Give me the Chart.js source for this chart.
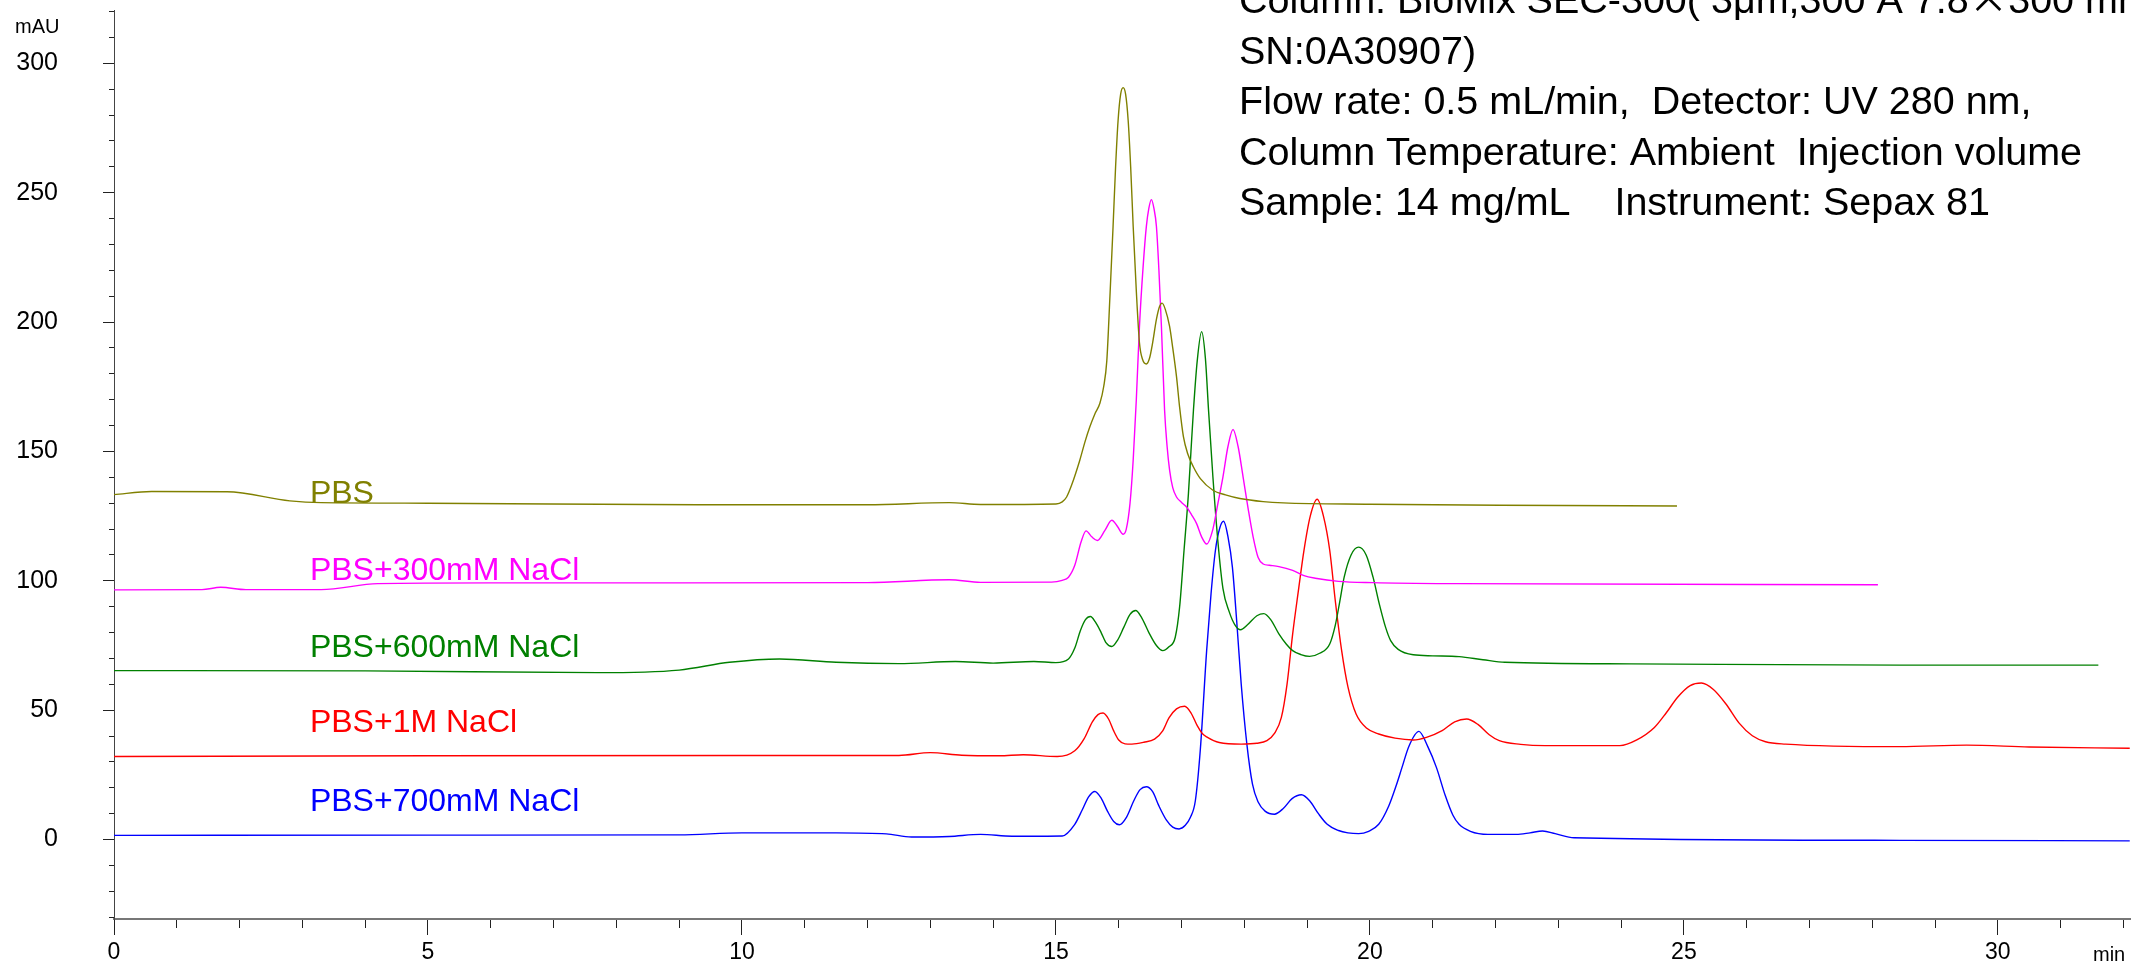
<!DOCTYPE html>
<html>
<head>
<meta charset="utf-8">
<script src="https://cdn.jsdelivr.net/npm/chart.js@4/dist/chart.umd.min.js"></script>
<style>
  html, body { margin: 0; padding: 0; background: #fff; }
  canvas { display: block; }
</style>
</head>
<body>
<canvas id="chrom" width="2131" height="964"></canvas>
<script>
// retention time (min) and absorbance (mAU)
const pbsTime = [0, 0.6, 1.8, 2.8, 3.3, 5, 9.3, 12, 13.3, 13.8, 15.0, 15.1, 15.17, 15.25, 15.38, 15.46, 15.54, 15.62, 15.70, 15.76, 15.81, 15.86, 15.91, 15.95, 15.99, 16.03, 16.07, 16.11, 16.15, 16.19, 16.23, 16.28, 16.33, 16.38, 16.44, 16.49, 16.54, 16.60, 16.65, 16.69, 16.74, 16.81, 16.86, 16.92, 16.97, 17.03, 17.10, 17.19, 17.3, 17.5, 17.7, 17.93, 18.3, 18.62, 20, 22.07, 24.89];
const pbsMau = [133.3, 134.5, 134.4, 130.9, 130.2, 130, 129.4, 129.4, 130.2, 129.5, 129.7, 130.5, 132.4, 137, 146.6, 153.5, 159.5, 164.5, 168.6, 175, 185, 210, 237, 260, 278, 288, 290.6, 288, 278, 260, 237, 212, 192, 185.5, 183.8, 186, 192, 201, 206, 207.3, 205, 198.3, 190, 178.9, 167, 155.7, 149, 144, 139.5, 135, 133.2, 131.8, 130.6, 130.1, 129.6, 129.2, 128.9];

const nacl300Time = [0, 1.4, 1.7, 2.1, 3.3, 4.2, 6, 9, 12, 13.3, 13.8, 14.93, 15.1, 15.2, 15.3, 15.4, 15.48, 15.57, 15.66, 15.78, 15.89, 15.98, 16.07, 16.12, 16.18, 16.23, 16.28, 16.33, 16.39, 16.44, 16.48, 16.52, 16.56, 16.6, 16.64, 16.68, 16.73, 16.77, 16.81, 16.86, 16.92, 17.0, 17.08, 17.16, 17.24, 17.32, 17.4, 17.5, 17.58, 17.66, 17.74, 17.82, 17.9, 17.98, 18.06, 18.14, 18.22, 18.3, 18.4, 18.55, 18.77, 18.95, 19.13, 19.5, 20.05, 21.4, 28.09];
const nacl300Mau = [96.5, 96.6, 97.5, 96.6, 96.6, 98.9, 99.2, 99.2, 99.3, 100.4, 99.4, 99.5, 100.2, 101.4, 106, 115, 119.3, 117, 115.6, 119.5, 123.4, 121, 118, 120, 130, 146.6, 170, 198.3, 222, 237, 244, 247.3, 244, 237, 220, 198.3, 166, 152, 142.8, 136, 132.4, 130.3, 128.5, 125.5, 122.1, 117, 114.2, 120, 130, 140.2, 152, 158.5, 152, 140.2, 128, 117, 109, 106.5, 106, 105.5, 104, 102, 101, 99.8, 99.3, 98.9, 98.5];

const nacl600Time = [0, 4, 7.7, 9.0, 9.8, 10.6, 11.5, 12.5, 13.4, 14.0, 14.65, 15.0, 15.2, 15.3, 15.39, 15.47, 15.55, 15.63, 15.72, 15.8, 15.89, 15.98, 16.08, 16.18, 16.27, 16.36, 16.48, 16.6, 16.7, 16.8, 16.9, 16.97, 17.04, 17.11, 17.15, 17.19, 17.25, 17.32, 17.38, 17.43, 17.5, 17.58, 17.66, 17.76, 17.85, 17.94, 18.05, 18.2, 18.31, 18.42, 18.55, 18.67, 18.77, 18.9, 19.04, 19.2, 19.36, 19.45, 19.52, 19.59, 19.7, 19.82, 19.94, 20.05, 20.15, 20.25, 20.33, 20.45, 20.69, 21.0, 21.42, 21.8, 22.15, 24.16, 28.44, 31.6];
const nacl600Mau = [65.3, 65.2, 64.5, 65.5, 68.5, 69.8, 68.5, 68, 68.8, 68.2, 68.8, 68.4, 69.8, 74, 80.8, 85, 86.2, 84, 80, 76, 74.6, 77, 82, 87, 88.5, 86, 80, 75, 73, 74.5, 78.2, 90, 111.8, 133.7, 150, 166, 185, 196.3, 186, 166, 140, 115, 97, 88, 83, 81.1, 83, 86.5, 87.3, 85, 79.5, 75.5, 73, 71.5, 70.8, 72, 75.6, 83, 92, 101.4, 110, 113, 110, 101.4, 91, 82, 76.9, 73.5, 71.4, 71, 70.7, 69.5, 68.5, 67.9, 67.4, 67.4];

const nacl1mTime = [0, 5, 10, 12.5, 13.0, 13.5, 14.1, 14.48, 15.02, 15.3, 15.45, 15.58, 15.67, 15.75, 15.84, 15.92, 16.0, 16.1, 16.21, 16.4, 16.57, 16.7, 16.8, 16.92, 17.05, 17.15, 17.25, 17.33, 17.4, 17.6, 17.95, 18.2, 18.36, 18.48, 18.59, 18.68, 18.77, 18.86, 18.95, 19.05, 19.16, 19.26, 19.36, 19.45, 19.55, 19.65, 19.78, 19.95, 20.14, 20.4, 20.69, 20.9, 21.15, 21.35, 21.54, 21.72, 21.9, 22.06, 22.4, 22.79, 23.98, 24.25, 24.53, 24.72, 24.9, 25.1, 25.28, 25.47, 25.67, 25.88, 26.09, 26.3, 26.62, 28.44, 29.5, 30.5, 32.1];
const nacl1mMau = [32.1, 32.4, 32.5, 32.5, 33.6, 32.6, 32.4, 32.8, 32.1, 34.3, 39, 45.5, 48.3, 48.9, 46.5, 42, 38.5, 37, 36.9, 37.6, 38.8, 42, 47, 50.5, 51.5, 49, 44, 41, 39.7, 37.5, 36.9, 37.2, 38.2, 41, 47.2, 60, 79.5, 96, 111.8, 125, 131.5, 125, 111.8, 92, 73, 59, 48.5, 43, 40.8, 39.2, 38.5, 39.5, 42.1, 45.5, 46.6, 44.5, 40.5, 38.2, 36.8, 36.3, 36.3, 38.5, 43.3, 49, 55, 59.5, 60.5, 58, 52.4, 45, 40.1, 37.8, 36.9, 35.9, 36.5, 35.8, 35.3];

const nacl700Time = [0, 5, 9, 10, 11.5, 12.3, 12.7, 13.3, 13.8, 14.3, 15.1, 15.3, 15.42, 15.52, 15.62, 15.72, 15.82, 15.92, 16.01, 16.12, 16.24, 16.34, 16.44, 16.54, 16.64, 16.76, 16.86, 16.96, 17.06, 17.14, 17.22, 17.3, 17.4, 17.47, 17.54, 17.61, 17.67, 17.74, 17.81, 17.88, 17.95, 18.04, 18.13, 18.22, 18.33, 18.48, 18.62, 18.76, 18.91, 19.04, 19.18, 19.32, 19.5, 19.65, 19.82, 19.98, 20.14, 20.3, 20.42, 20.51, 20.62, 20.78, 20.92, 21.06, 21.2, 21.32, 21.42, 21.6, 21.88, 22.33, 22.55, 22.75, 22.95, 23.25, 28.44, 32.1];
const nacl700Mau = [1.6, 1.7, 1.8, 2.6, 2.6, 2.2, 1.0, 1.2, 2.0, 1.3, 1.4, 5.9, 11.5, 16.5, 18.6, 16, 11, 7, 5.7, 8.5, 15, 19.3, 20.4, 18.5, 13, 7.5, 4.8, 4.1, 5.5, 8.5, 15, 35, 73, 95, 111.8, 120.5, 123, 117, 105.3, 84, 60.2, 37, 21.4, 14.5, 11, 9.8, 12, 15.8, 17.3, 15, 10, 5.9, 3.5, 2.6, 2.3, 3.2, 5.9, 13, 21, 27.8, 36, 41.8, 36, 27.8, 17, 9.5, 5.9, 3.2, 2, 2, 2.6, 3.3, 2.3, 0.7, -0.3, -0.5];

const seriesNames = ["PBS", "PBS+300mM NaCl", "PBS+600mM NaCl", "PBS+1M NaCl", "PBS+700mM NaCl"];
const seriesColors = ["#808000", "#ff00ff", "#008000", "#ff0000", "#0000ff"];
const seriesTimes = [pbsTime, nacl300Time, nacl600Time, nacl1mTime, nacl700Time];
const seriesValues = [pbsMau, nacl300Mau, nacl600Mau, nacl1mMau, nacl700Mau];

// where each trace's name sits (time, mAU of text baseline)
const nameTime = 3.12;
const nameMau = [130.1, 100.2, 70.6, 41.7, 11.2];

// first line is split so the × can come from the CJK font, as in the original
const infoFirst = ["Column: BioMix SEC-300( 3μm,300 Å 7.8", "×", "300 mm,"];
const infoLines = [
    "SN:0A30907)",
    "Flow rate: 0.5 mL/min,  Detector: UV 280 nm,",
    "Column Temperature: Ambient  Injection volume",
    "Sample: 14 mg/mL    Instrument: Sepax 81"
];

const FONT = "'Liberation Sans', Arial, sans-serif";

const datasets = seriesNames.map((name, i) => ({
    label: name,
    data: seriesTimes[i].map((t, k) => ({ x: t, y: seriesValues[i][k] })),
    borderColor: seriesColors[i],
    backgroundColor: seriesColors[i],
    borderWidth: 1.4,
    pointRadius: 0,
    fill: false,
    cubicInterpolationMode: 'monotone'
}));

const textPlugin = {
    id: 'texts',
    afterDraw(chart) {
        const c = chart.ctx;
        const xs = chart.scales.x;
        const ys = chart.scales.y;
        c.save();
        c.textBaseline = 'alphabetic';
        c.textAlign = 'left';

        // trace names
        c.font = "32px " + FONT;
        seriesNames.forEach((name, i) => {
            c.fillStyle = seriesColors[i];
            c.fillText(name, xs.getPixelForValue(nameTime), ys.getPixelForValue(nameMau[i]));
        });

        // method info block
        c.fillStyle = "#000";
        const infoFont = "39.5px " + FONT;
        const cjkFont = "39.5px 'Noto Sans CJK SC', " + FONT;
        let x = 1239;
        infoFirst.forEach((part, k) => {
            c.font = k === 1 ? cjkFont : infoFont;
            c.fillText(part, x, 13);
            x += c.measureText(part).width;
        });
        c.font = infoFont;
        infoLines.forEach((line, i) => {
            c.fillText(line, 1239, 13 + (i + 1) * 50.5);
        });

        // axis units
        c.font = "20px " + FONT;
        c.fillText("mAU", 15, 33);
        c.fillText("min", 2093, 961);
        c.restore();
    }
};

const ctx = document.getElementById("chrom").getContext("2d");
const chart = new Chart(ctx, {
    type: 'line',
    data: { datasets: datasets },
    options: {
        responsive: false,
        animation: false,
        layout: { padding: { top: 10, right: 0, bottom: 0, left: 0 } },
        plugins: {
            legend: { display: false },
            tooltip: { enabled: false }
        },
        scales: {
            x: {
                type: 'linear',
                min: 0,
                max: 32.12,
                afterFit: (s) => {
                    s.height = 45;
                    s.paddingLeft = 0;
                    s.paddingRight = 0;
                },
                ticks: {
                    stepSize: 1,
                    autoSkip: false,
                    maxRotation: 0,
                    includeBounds: false,
                    padding: 4,
                    color: '#000',
                    font: { family: FONT, size: 23 },
                    callback: (v) => (v % 5 === 0 ? String(v) : '')
                },
                grid: {
                    drawOnChartArea: false,
                    tickLength: 16,
                    tickColor: '#222',
                    tickWidth: 1,
                    tickBorderDash: (c) => (c.tick && c.tick.value % 5 === 0 ? [] : [8, 30]),
                    tickBorderDashOffset: 0
                },
                border: { color: '#777', width: 2 }
            },
            y: {
                type: 'linear',
                min: -30.7,
                max: 320.6,
                afterFit: (s) => {
                    s.width = 114;
                    s.paddingTop = 0;
                    s.paddingBottom = 0;
                },
                ticks: {
                    stepSize: 10,
                    autoSkip: false,
                    includeBounds: false,
                    padding: 45,
                    color: '#000',
                    font: { family: FONT, size: 25 },
                    callback: (v) => (v % 50 === 0 && v >= 0 ? String(v) : '')
                },
                grid: {
                    drawOnChartArea: false,
                    tickLength: 11,
                    tickColor: '#222',
                    tickWidth: 1,
                    tickBorderDash: (c) => (c.tick && c.tick.value % 50 === 0 ? [] : [5, 6]),
                    tickBorderDashOffset: (c) => (c.tick && c.tick.value % 50 === 0 ? 0 : 5)
                },
                border: { color: '#444', width: 1 }
            }
        }
    },
    plugins: [textPlugin]
});
</script>
</body>
</html>
